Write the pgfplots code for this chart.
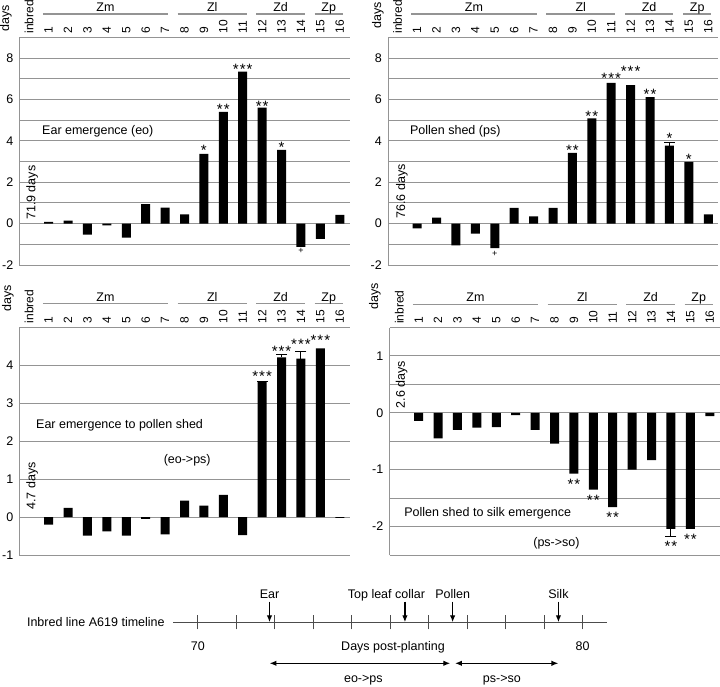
\documentclass[border=0pt]{standalone}
\usepackage{pgfplots}
\pgfplotsset{compat=1.18}
\usepackage{fontspec}
\setmainfont{Liberation Sans}
\usetikzlibrary{arrows.meta}
\definecolor{gridc}{gray}{0.58}
\newcommand{\sA}{*}
\newcommand{\sB}{*\kern1pt*}
\newcommand{\sC}{*\kern1pt*\kern1pt*}
\newcommand{\fnt}{\fontsize{12.5}{14}\selectfont}

\pgfplotsset{
  panel/.style={
    scale only axis, width=330pt, xmin=-0.5, xmax=16.5,
    anchor=north west, clip=false,
    axis line style={draw=none},
    major tick length=0pt, tick style={draw=none},
    ymajorgrids, grid style={gridc, line width=1pt},
    xtick={0,...,16},
    xticklabels={inbred,1,2,3,4,5,6,7,8,9,10,11,12,13,14,15,16},
    xticklabel pos=upper,
    xticklabel shift=3.5pt,
    xticklabel style={rotate=90, anchor=west, inner sep=0pt, font=\fontsize{12}{12}\selectfont},
    yticklabel shift=6pt,
    yticklabel style={anchor=east, inner sep=0pt, font=\fnt},
  },
  bars/.style={ybar, bar width=9pt, bar shift=0pt, fill=black, draw=none},
  stars/.style={only marks, mark=none, nodes near coords, point meta=explicit symbolic,
    every node near coord/.append style={anchor=base, inner sep=0pt, yshift=-8.6pt, font=\fontsize{15}{15}\selectfont}},
  plus/.style={only marks, mark=none, nodes near coords, point meta=explicit symbolic,
    every node near coord/.append style={anchor=base, inner sep=0pt, yshift=-3.2pt, font=\fontsize{9}{9}\selectfont}},
  errline/.style={black, line width=1pt, mark=none},
  errcap/.style={black, only marks, mark=-, mark size=5.5pt, mark options={line width=1pt}},
}

\newcommand{\header}[1]{%
  \draw[gridc, line width=1pt] (rel axis cs:0,0) -- (rel axis cs:0,1);
  \draw[gridc, line width=1.2pt] ([yshift=23.3pt]axis cs:0.7,#1) -- ([yshift=23.3pt]axis cs:7.15,#1);
  \draw[gridc, line width=1.2pt] ([yshift=23.3pt]axis cs:7.65,#1) -- ([yshift=23.3pt]axis cs:11.2,#1);
  \draw[gridc, line width=1.2pt] ([yshift=23.3pt]axis cs:11.7,#1) -- ([yshift=23.3pt]axis cs:14.2,#1);
  \draw[gridc, line width=1.2pt] ([yshift=23.3pt]axis cs:14.7,#1) -- ([yshift=23.3pt]axis cs:16.15,#1);
  \node[anchor=base, inner sep=0pt, font=\fnt] at ([yshift=25.8pt]axis cs:3.93,#1) {Zm};
  \node[anchor=base, inner sep=0pt, font=\fnt] at ([yshift=25.8pt]axis cs:9.43,#1) {Zl};
  \node[anchor=base, inner sep=0pt, font=\fnt] at ([yshift=25.8pt]axis cs:12.95,#1) {Zd};
  \node[anchor=base, inner sep=0pt, font=\fnt] at ([yshift=25.8pt]axis cs:15.43,#1) {Zp};
}

\begin{document}
\begin{tikzpicture}[font=\fnt]
\useasboundingbox (0pt,0pt) rectangle (720pt,-686pt);

% ---------- Top left: Ear emergence ----------
\begin{axis}[panel, at={(19.5pt,-37.3pt)}, height=227.7pt,
  ymin=-2, ymax=9, ytick={-2,...,9},
  yticklabels={-2,{},0,{},2,{},4,{},6,{},8,{}}]
\addplot[bars] coordinates {(1,0.08) (2,0.15) (3,-0.53) (4,-0.08) (5,-0.68) (6,0.94) (7,0.77) (8,0.44)
  (9,3.37) (10,5.40) (11,7.34) (12,5.60) (13,3.56) (14,-1.13) (15,-0.74) (16,0.42)};
\addplot[stars] coordinates {(9,3.71) [\sA] (10,5.68) [\sB] (11,7.63) [\sC] (12,5.84) [\sB] (13,3.84) [\sA]};
\addplot[plus] coordinates {(14,-1.30) [+]};
\header{9}
\node[anchor=west, inner sep=0pt] at (axis cs:0.66,4.45) {Ear emergence (eo)};
\node[rotate=90, anchor=west, inner sep=0pt] at (axis cs:0.15,0.17) {71.9 days};
\end{axis}
\node[rotate=90, anchor=west, inner sep=0pt] at (6pt,-31.5pt) {days};

% ---------- Top right: Pollen shed ----------
\begin{axis}[panel, at={(388pt,-37.3pt)}, height=227.7pt,
  ymin=-2, ymax=9, ytick={-2,...,9},
  yticklabels={-2,{},0,{},2,{},4,{},6,{},8,{}}]
\addplot[bars] coordinates {(1,-0.23) (2,0.29) (3,-1.05) (4,-0.48) (5,-1.18) (6,0.76) (7,0.35) (8,0.76)
  (9,3.42) (10,5.08) (11,6.80) (12,6.69) (13,6.11) (14,3.77) (15,2.98) (16,0.45)};
\addplot[errline] coordinates {(14,3.77) (14,3.92)};
\addplot[errcap] coordinates {(14,3.92)};
\addplot[stars] coordinates {(9,3.71) [\sB] (10,5.35) [\sB] (11,7.18) [\sC] (12,7.50) [\sC] (13,6.42) [\sB] (14,4.27) [\sA] (15,3.27) [\sA]};
\addplot[plus] coordinates {(5,-1.45) [+]};
\header{9}
\node[anchor=west, inner sep=0pt] at (axis cs:0.63,4.45) {Pollen shed (ps)};
\node[rotate=90, anchor=west, inner sep=0pt] at (axis cs:0.22,0.24) {76.6 days};
\end{axis}
\node[rotate=90, anchor=west, inner sep=0pt] at (378pt,-28.5pt) {days};

% ---------- Bottom left: eo -> ps ----------
\begin{axis}[panel, at={(19.5pt,-327pt)}, height=228pt,
  ymin=-1, ymax=5, ytick={-1,...,5},
  yticklabels={-1,0,1,2,3,4,{}}]
\addplot[bars] coordinates {(1,-0.20) (2,0.24) (3,-0.49) (4,-0.38) (5,-0.49) (6,-0.05) (7,-0.46) (8,0.43)
  (9,0.30) (10,0.58) (11,-0.48) (12,3.55) (13,4.20) (14,4.17) (15,4.44) (16,-0.02)};
\addplot[errline] coordinates {(13,4.20) (13,4.27)};
\addplot[errline] coordinates {(14,4.17) (14,4.35)};
\addplot[errcap] coordinates {(12,3.57) (13,4.27) (14,4.35)};
\addplot[stars] coordinates {(12,3.78) [\sC] (13,4.44) [\sC] (14,4.64) [\sC] (15,4.74) [\sC]};
\header{5}
\node[anchor=west, inner sep=0pt] at (axis cs:0.35,2.41) {Ear emergence to pollen shed};
\node[inner sep=0pt] at (axis cs:8.14,1.5) {(eo->ps)};
\node[rotate=90, anchor=west, inner sep=0pt] at (axis cs:0.15,0.19) {4.7 days};
\end{axis}
\node[rotate=90, anchor=west, inner sep=0pt] at (8pt,-312pt) {days};

% ---------- Bottom right: ps -> so ----------
\begin{axis}[panel, at={(389.5pt,-327.5pt)}, height=227.5pt,
  ymin=-2.5, ymax=1.5, ytick={-2.5,-2,...,1.5},
  yticklabels={{},-2,{},-1,{},0,{},1,{}}]
\addplot[bars] coordinates {(1,-0.14) (2,-0.45) (3,-0.30) (4,-0.26) (5,-0.25) (6,-0.04) (7,-0.30) (8,-0.54)
  (9,-1.07) (10,-1.35) (11,-1.66) (12,-1.00) (13,-0.83) (14,-2.04) (15,-2.04) (16,-0.06)};
\addplot[errline] coordinates {(14,-2.04) (14,-2.17)};
\addplot[errcap] coordinates {(14,-2.17)};
\addplot[stars] coordinates {(9,-1.20) [\sB] (10,-1.47) [\sB] (11,-1.78) [\sB] (14,-2.29) [\sB] (15,-2.16) [\sB]};
\header{1.5}
\node[anchor=west, inner sep=0pt] at (axis cs:0.25,-1.77) {Pollen shed to silk emergence};
\node[inner sep=0pt] at (axis cs:8.1,-2.29) {(ps->so)};
\node[rotate=90, anchor=west, inner sep=0pt] at (axis cs:0.13,0.08) {2.6 days};
\end{axis}
\node[rotate=90, anchor=west, inner sep=0pt] at (375pt,-310pt) {days};

% ---------- Timeline ----------
\begin{axis}[scale only axis, width=434pt, height=100pt, xmin=69.36, xmax=80.64,
  ymin=-64, ymax=36, clip=false, at={(173.3pt,-686.3pt)}, anchor=south west,
  axis x line=middle, axis y line=none,
  x axis line style={draw=none},
  xtick={70,...,80}, xticklabels={}, ytick=\empty,
  major tick length=14pt, tick align=center,
  tick style={black!70, line width=0.9pt}]
\addplot[black!70, line width=1.2pt] coordinates {(69.36,0) (80.64,0)};
\addplot[black, line width=1.3pt, quiver={u=0, v=-20.6}, -{Latex[length=7pt,width=5.5pt]}]
  coordinates {(71.86,20.6) (75.38,20.6) (76.62,20.6) (79.37,20.6)};
\addplot[black, line width=1.3pt, {Latex[length=7pt,width=5.5pt]}-{Latex[length=7pt,width=5.5pt]}]
  coordinates {(71.86,-41) (76.56,-41)};
\addplot[black, line width=1.3pt, {Latex[length=7pt,width=5.5pt]}-{Latex[length=7pt,width=5.5pt]}]
  coordinates {(76.68,-41) (79.37,-41)};
\node[anchor=base] at (axis cs:71.86,24) {Ear};
\node[anchor=base] at (axis cs:74.9,24) {Top leaf collar};
\node[anchor=base] at (axis cs:76.62,24) {Pollen};
\node[anchor=base] at (axis cs:79.37,24) {Silk};
\node[anchor=base east, inner sep=0pt] at (axis cs:69.14,-3.9) {Inbred line A619 timeline};
\node[anchor=base] at (axis cs:70,-27.9) {70};
\node[anchor=base] at (axis cs:80,-27.9) {80};
\node[anchor=base] at (axis cs:75.07,-27.9) {Days post-planting};
\node[anchor=base] at (axis cs:74.3,-60.5) {eo->ps};
\node[anchor=base] at (axis cs:77.9,-60.5) {ps->so};
\end{axis}
\end{tikzpicture}
\end{document}
